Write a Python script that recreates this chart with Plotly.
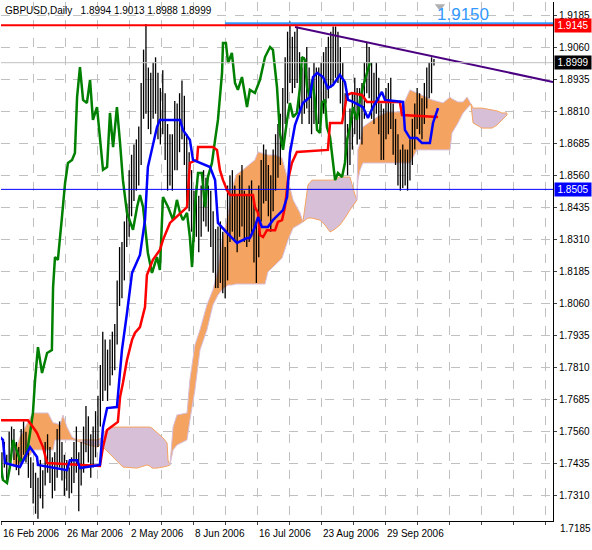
import plotly.graph_objects as go

# price bars: bar index -1 .. 180 (bar 0 = 16 Feb 2006)
bar_lo = [1.740,1.738,1.742,1.737,1.744,1.748,1.745,1.741,1.739,1.743,1.747,1.744,1.738,1.734,1.728,1.724,1.722,1.730,1.726,1.735,1.740,1.736,1.730,1.733,1.738,1.742,1.737,1.731,
          1.733,1.730,1.732,1.736,1.740,1.725,1.735,1.740,1.748,1.744,1.738,1.742,1.746,1.750,1.758,1.768,1.772,1.768,1.774,1.778,1.780,1.790,1.805,1.808,1.815,1.828,1.832,1.840,
          1.846,1.850,1.852,1.860,1.878,1.880,1.874,1.872,1.878,1.880,1.870,1.868,1.872,1.862,1.850,1.852,1.850,1.858,1.858,1.865,1.870,1.860,1.845,1.842,1.834,1.830,1.832,1.826,
          1.832,1.838,1.836,1.834,1.828,1.818,1.812,1.812,1.814,1.810,1.808,1.815,1.830,1.834,1.830,1.826,1.832,1.836,1.830,1.828,1.830,1.832,1.822,1.814,1.824,1.838,1.845,1.846,
          1.840,1.834,1.842,1.850,1.855,1.860,1.866,1.876,1.884,1.892,1.888,1.890,1.892,1.880,1.876,1.880,1.882,1.876,1.872,1.876,1.878,1.876,1.878,1.880,1.884,1.886,1.890,1.892,
          1.894,1.892,1.884,1.878,1.862,1.856,1.860,1.866,1.872,1.868,1.870,1.868,1.878,1.888,1.886,1.878,1.876,1.880,1.872,1.862,1.862,1.870,1.872,1.874,1.864,1.860,1.852,1.850,
          1.851,1.852,1.850,1.854,1.860,1.866,1.874,1.872,1.870,1.876,1.882,1.886,1.888,1.8988]
bar_hi = [1.750,1.748,1.752,1.747,1.756,1.758,1.757,1.752,1.750,1.757,1.760,1.756,1.749,1.746,1.744,1.740,1.738,1.745,1.741,1.752,1.755,1.750,1.746,1.748,1.757,1.760,1.752,1.747,
          1.745,1.742,1.746,1.752,1.758,1.748,1.752,1.758,1.766,1.762,1.755,1.758,1.764,1.770,1.782,1.795,1.792,1.788,1.792,1.795,1.798,1.815,1.828,1.830,1.838,1.845,1.858,1.864,
          1.868,1.870,1.875,1.892,1.905,1.915,1.898,1.896,1.900,1.902,1.896,1.890,1.897,1.888,1.876,1.872,1.872,1.885,1.884,1.888,1.893,1.887,1.872,1.865,1.858,1.850,1.852,1.848,
          1.852,1.858,1.855,1.852,1.850,1.842,1.835,1.836,1.838,1.834,1.828,1.852,1.856,1.858,1.852,1.848,1.856,1.860,1.850,1.848,1.852,1.854,1.846,1.838,1.852,1.862,1.868,1.866,
          1.860,1.856,1.866,1.872,1.876,1.880,1.890,1.902,1.912,1.916,1.910,1.912,1.914,1.904,1.898,1.902,1.906,1.898,1.892,1.900,1.898,1.898,1.900,1.904,1.906,1.910,1.912,1.914,
          1.914,1.912,1.906,1.900,1.888,1.876,1.882,1.888,1.894,1.890,1.890,1.892,1.900,1.908,1.906,1.900,1.896,1.900,1.894,1.884,1.882,1.890,1.892,1.894,1.884,1.878,1.872,1.866,
          1.868,1.866,1.866,1.870,1.878,1.884,1.890,1.888,1.886,1.892,1.898,1.900,1.902,1.9013]

# chikou span (green)
chikou_x = [-0.8,0.4,2.1,3.3,4.6,6.3,7.5,8.8,10.4,11.7,12.9,13.8,15,16.7,18.8,20.8,21.3,22.1,23.3,25,26.3,27.5,29.2,30.4,31.3,32.5,33.8,35.4,36.7,37.9,
            39.6,40.8,42.1,43.8,45,46.3,47.9,49.2,50.4,52.1,53.3,54.6,56.3,57.5,58.8,60.8,62.5,64.6,65.8,67.1,69.2,71.3,72.9,74.2,75.4,77.1,78.3,79.2,80.4,81.7,
            83.3,84.6,85.8,87.5,88.8,90,91.7,92.1,93.3,94.2,95.8,97.1,98.3,100,102.1,103.3,105.4,107.5,109.6,111.7,112.9,114.6,115.8,117.1,118.8,120,121.3,122.9,124.2,125,
            126.3,127.1,128.3,129.2,130.4,131.3,132.5,133.3,134.6,135.4,136.7,137.9,138.8,140,141.7,142.9,143.8,145,146.3,147.9,149.2,150.4,152.1,153.3]
chikou_y = [1.7449,1.7372,1.7360,1.7422,1.7528,1.7477,1.7449,1.7449,1.7477,1.7555,1.7633,1.7762,1.7890,1.7789,1.7867,1.7878,1.8124,1.8241,1.8230,1.8397,1.8530,1.8608,1.8620,1.8647,1.8865,1.8982,1.8854,1.8842,1.8932,1.8776,
            1.8826,1.8709,1.8581,1.8592,1.8803,1.8670,1.8826,1.8686,1.8541,1.8413,1.8385,1.8347,1.8436,1.8483,1.8436,1.8257,1.8179,1.8241,1.8191,1.8475,1.8436,1.8385,1.8464,1.8413,1.8385,1.8413,1.8319,1.8202,1.8436,1.8569,
            1.8569,1.8436,1.8553,1.8608,1.8698,1.8776,1.8959,1.9076,1.9076,1.8998,1.9037,1.8920,1.8893,1.8943,1.8826,1.8893,1.8881,1.8932,1.9021,1.9060,1.9049,1.8904,1.8725,1.8659,1.8776,1.8842,1.8787,1.8803,1.8904,1.9021,
            1.9010,1.8904,1.8865,1.8932,1.8854,1.8737,1.8725,1.8842,1.8854,1.8748,1.8709,1.8608,1.8541,1.8569,1.8553,1.8608,1.8698,1.8748,1.8826,1.8776,1.8854,1.8904,1.8959,1.8998]

# red line
red_x = [-0.8,10.8,12.9,14.6,15.8,17.1,18.8,40.8,42.1,43.8,48.3,49.2,50.4,52.1,54.2,55.4,57.5,59.6,60.4,62.9,65.8,67.1,70,74.2,77.1,78.3,81.3,81.7,87.9,89.6,
         90.8,92.1,93.8,95,104.6,105.4,106.7,107.5,108.8,110.4,113.8,115,116.7,117.9,119.2,120.8,122.9,135.8,136.7,141.7,142.9,143.8,145.8,150,152.1,165.8,166.7,181.7]
red_y = [1.7605,1.7605,1.7578,1.7555,1.7528,1.7500,1.7438,1.7426,1.7500,1.7567,1.7598,1.7695,1.7750,1.7840,1.7918,1.7945,1.7968,1.8046,1.8171,1.8230,1.8269,1.8308,1.8374,1.8413,1.8436,1.8608,1.8620,1.8670,1.8670,1.8659,
         1.8581,1.8541,1.8502,1.8483,1.8483,1.8436,1.8413,1.8327,1.8319,1.8346,1.8346,1.8378,1.8385,1.8436,1.8541,1.8608,1.8651,1.8659,1.8764,1.8764,1.8834,1.8873,1.8881,1.8873,1.8846,1.8846,1.8795,1.8787]

# blue line
blue_x = [-0.8,0.4,1.3,7.5,11.7,14.6,15,27.1,28.3,31.3,32.5,40.8,42.1,43.8,47.9,50,52.1,54.2,57.5,59.6,60.8,62.9,64.6,65.8,74.2,75.4,78.3,79.6,82.5,86.7,
          88.8,90,93.8,97.9,102.1,103.3,105.4,106.7,108.3,110.8,112.9,117.1,118.8,120,122.1,125.4,128.3,129.6,131.3,133.8,135.8,137.9,140.8,142.9,144.2,146.3,150.4,152.5,154.6,158.3,
          159.6,167.1,167.9,170,172.9,175,178.3,179.6,181.7]
blue_y = [1.7539,1.7528,1.7438,1.7422,1.7500,1.7461,1.7430,1.7410,1.7449,1.7449,1.7418,1.7430,1.7578,1.7652,1.7656,1.7879,1.8023,1.8179,1.8249,1.8386,1.8592,1.8686,1.8748,1.8776,1.8776,1.8737,1.8698,1.8620,1.8608,1.8592,
          1.8541,1.8374,1.8335,1.8296,1.8315,1.8315,1.8358,1.8397,1.8358,1.8358,1.8385,1.8424,1.8475,1.8647,1.8756,1.8842,1.8865,1.8943,1.8959,1.8943,1.8900,1.8912,1.8951,1.8924,1.8854,1.8846,1.8826,1.8783,1.8826,1.8885,
          1.8854,1.8846,1.8737,1.8705,1.8705,1.8686,1.8686,1.8764,1.8822]

# cloud pieces: x, upper edge, lower edge
o1_x = [4.6,7.5,11.7,12.9,19.2,21.3,22.1,24.2,25.4,27.1,29.2,31.3]
o1_top = [1.7461,1.7539,1.7613,1.7633,1.7633,1.7594,1.7594,1.7586,1.7625,1.7578,1.7539,1.7528]
o1_bot = [1.7422,1.7438,1.7469,1.7489,1.7489,1.7489,1.7528,1.7528,1.7528,1.7528,1.7528,1.7524]
p0_x = [31.3,36,40,42.1]
p0_top = [1.7528,1.7528,1.7528,1.7539]
p0_bot = [1.7524,1.7508,1.7500,1.7524]
p1_x = [42.1,45,46.3,50.4,56.3,60.4,61.7,62.5,64.6,67.1,68.8,69.2,70]
p1_top = [1.7555,1.7578,1.7578,1.7578,1.7578,1.7578,1.7578,1.7574,1.7555,1.7536,1.7516,1.7449,1.7430]
p1_bot = [1.7500,1.7473,1.7461,1.7422,1.7418,1.7430,1.7426,1.7418,1.7418,1.7422,1.7426,1.7426,1.7430]
o2_x = [70,71.3,72.9,77.1,78.3,80.4,82.5,85.4,87.9,90,91.7,94.2,95.8,97.5,101.3,105.4,106.7,109.6,110.8,113.8,116.7,119.2,121.3,124.2,125.4]
o2_top = [1.7430,1.7578,1.7625,1.7633,1.7762,1.7898,1.7957,1.8054,1.8113,1.8191,1.8308,1.8405,1.8502,1.8561,1.8588,1.8620,1.8651,1.8643,1.8639,1.8639,1.8627,1.8541,1.8464,1.8413,1.8378]
o2_bot = [1.7430,1.7489,1.7508,1.7528,1.7605,1.7723,1.7878,1.7957,1.8054,1.8093,1.8113,1.8132,1.8132,1.8136,1.8136,1.8136,1.8136,1.8136,1.8183,1.8210,1.8237,1.8308,1.8354,1.8370,1.8378]
p2_x = [125.4,127.5,129.2,132.5,134.6,136.7,138.3,140.8,142.9,145,147.1,147.9]
p2_top = [1.8378,1.8522,1.8541,1.8541,1.8541,1.8541,1.8541,1.8553,1.8553,1.8553,1.8483,1.8464]
p2_bot = [1.8378,1.8393,1.8393,1.8385,1.8366,1.8339,1.8347,1.8366,1.8393,1.8425,1.8452,1.8464]
o3_x = [147.9,148.3,149.2,150.4,156.3,160.4,165.8,168.8,170,172.9,179.2,183.8,186.7,187.5,190,192.1,193.8,195.4]
o3_top = [1.8464,1.8659,1.8686,1.8748,1.8787,1.8807,1.8807,1.8865,1.8893,1.8881,1.8854,1.8842,1.8865,1.8858,1.8846,1.8846,1.8865,1.8838]
o3_bot = [1.8464,1.8541,1.8581,1.8608,1.8608,1.8608,1.8608,1.8608,1.8608,1.8659,1.8659,1.8659,1.8659,1.8725,1.8764,1.8803,1.8822,1.8838]
p3_x = [195.4,196.3,200,204.2,206.3,208.3,210.4]
p3_top = [1.8838,1.8822,1.8822,1.8815,1.8811,1.8803,1.8803]
p3_bot = [1.8838,1.8764,1.8744,1.8744,1.8756,1.8776,1.8795]

date_labels = ["16 Feb 2006", "26 Mar 2006", "2 May 2006", "8 Jun 2006", "16 Jul 2006", "23 Aug 2006", "29 Sep 2006"]
price_ticks = [1.9185,1.9060,1.8935,1.8810,1.8685,1.8560,1.8435,1.8310,1.8185,1.8060,1.7935,1.7810,1.7685,1.7560,1.7435,1.7310]

hline_red = 1.9145
hline_blue_top = 1.9150
hline_blue = 1.8505
last_close = 1.8999
trend_x = [122.1, 229.6]
trend_y = [1.9138, 1.8924]

FONT = "Liberation Sans"

fig = go.Figure()

clouds = [(o1_x, o1_top, o1_bot, "#F4A460"), (p0_x, p0_top, p0_bot, "#D8BFD8"),
          (p1_x, p1_top, p1_bot, "#D8BFD8"), (o2_x, o2_top, o2_bot, "#F4A460"),
          (p2_x, p2_top, p2_bot, "#D8BFD8"), (o3_x, o3_top, o3_bot, "#F4A460"),
          (p3_x, p3_top, p3_bot, "#D8BFD8")]
for cx, ct, cb, col in clouds:
    edge = "#F4A460" if col == "#D8BFD8" else "#D8BFD8"
    fig.add_trace(go.Scatter(x=cx + cx[::-1], y=ct + cb[::-1], fill="toself", fillcolor=col,
                             mode="lines", line=dict(color=edge, width=1), hoverinfo="skip"))

# horizontal lines
fig.add_hline(y=last_close, line=dict(color="#c0c0c0", width=1))
fig.add_hline(y=hline_blue, line=dict(color="#0000ff", width=1))
fig.add_hline(y=hline_red, line=dict(color="#ff0000", width=2))

# bars
bx, by = [], []
for i, (lo, hi) in enumerate(zip(bar_lo, bar_hi)):
    bx += [i - 1, i - 1, None]
    by += [lo, hi, None]
fig.add_trace(go.Scatter(x=bx, y=by, mode="lines", line=dict(color="black", width=1.3), hoverinfo="skip"))

fig.add_trace(go.Scatter(x=chikou_x, y=chikou_y, mode="lines", line=dict(color="#008000", width=2.5)))
fig.add_trace(go.Scatter(x=red_x, y=red_y, mode="lines", line=dict(color="#ff0000", width=2.5)))
fig.add_trace(go.Scatter(x=blue_x, y=blue_y, mode="lines", line=dict(color="#0000ff", width=2.5)))

fig.add_trace(go.Scatter(x=[92.9, 229.6], y=[hline_blue_top] * 2, mode="lines", line=dict(color="#3399ff", width=3.5)))
fig.add_trace(go.Scatter(x=trend_x, y=trend_y, mode="lines", line=dict(color="#4B0082", width=2)))
fig.add_trace(go.Scatter(x=[182.5], y=[1.9218], mode="markers",
                         marker=dict(symbol="triangle-down", size=9, color="#b0b0b0")))

grid_x = [k * 40 / 3 for k in range(18)]

fig.update_layout(
    width=592, height=550, margin=dict(l=1, r=39, t=2, b=29),
    paper_bgcolor="white", plot_bgcolor="white", showlegend=False,
    font=dict(family=FONT, size=10, color="black"),
    xaxis=dict(range=[-0.4, 229.6], tickvals=grid_x, ticktext=[""] * 18, showgrid=True,
               gridcolor="#c0c0c0", griddash="dash", zeroline=False, showline=True,
               linecolor="black", ticks="outside", ticklen=3, automargin=False),
    yaxis=dict(range=[1.72117, 1.92357], side="right", tickvals=price_ticks, tickformat=".4f",
               showgrid=True, gridcolor="#c0c0c0", griddash="dash", zeroline=False,
               showline=True, linecolor="black", ticks="outside", ticklen=3, automargin=False,
               tickfont=dict(family=FONT, size=10)),
)

for k in range(0, 14, 2):
    fig.add_annotation(x=grid_x[k], y=0, yref="paper", yanchor="top", xanchor="left",
                       text=date_labels[k // 2], showarrow=False, yshift=-5, xshift=-1,
                       font=dict(size=10))
fig.add_annotation(x=1, xref="paper", y=0, yref="paper", xanchor="left", yanchor="middle",
                   yshift=-7, xshift=5, text="1.7185", showarrow=False, font=dict(size=10))

for val, bg in [(hline_red, "#ff0000"), (last_close, "#000000"), (hline_blue, "#0000ff")]:
    fig.add_annotation(x=1, xref="paper", y=val, xanchor="left", yanchor="middle",
                       text=f"{val:.4f}", showarrow=False, bgcolor=bg, xshift=1, borderpad=1,
                       font=dict(size=10, color="white"), width=34)

fig.add_annotation(x=0, xref="paper", y=1, yref="paper", xanchor="left", yanchor="top",
                   text="GBPUSD,Daily   1.8994 1.9013 1.8988 1.8999", showarrow=False,
                   xshift=2, yshift=-1, font=dict(size=10))
fig.add_annotation(x=192, y=hline_blue_top, yanchor="bottom", text="1.9150", showarrow=False,
                   font=dict(family=FONT, size=17, color="#3399ff"), yshift=-2)

fig.write_html("out.html", config={"displayModeBar": False},
               post_script="document.body.style.margin='0';")
